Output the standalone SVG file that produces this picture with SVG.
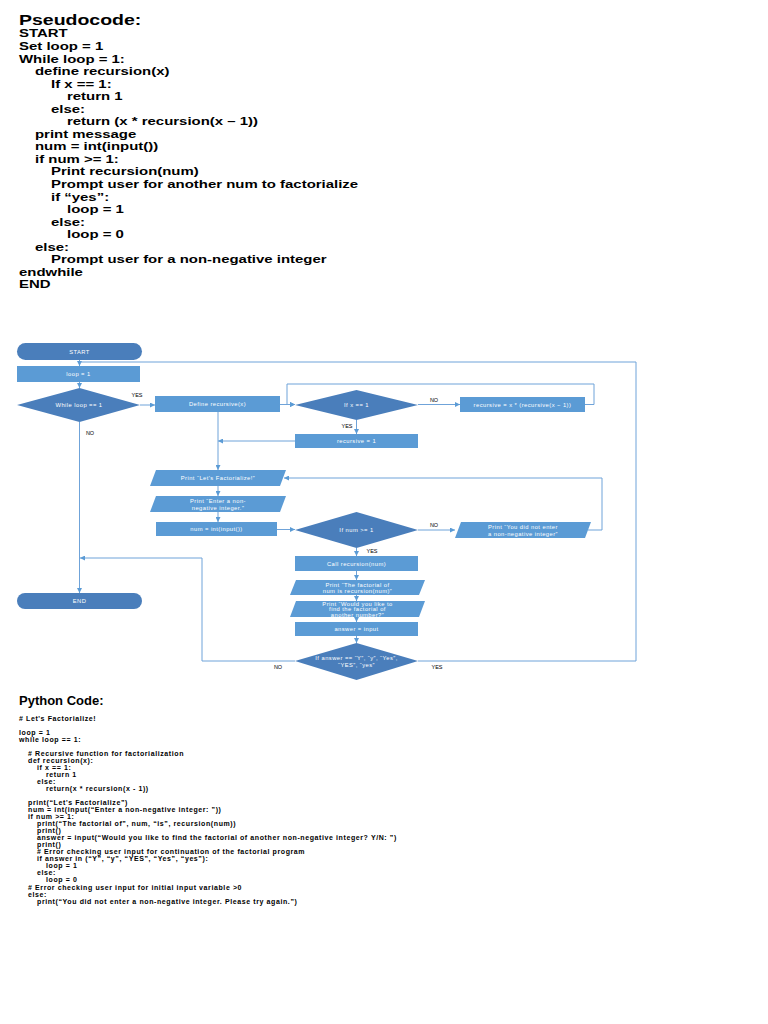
<svg xmlns="http://www.w3.org/2000/svg" width="768" height="1024" viewBox="0 0 768 1024">
<style>
.h{font-family:"Liberation Sans",Arial,sans-serif;font-weight:bold;fill:#000}
.pc{font-family:"Liberation Sans",Arial,sans-serif;font-weight:bold;font-size:11.5px;fill:#000}
.py{font-family:"Liberation Sans",Arial,sans-serif;font-weight:bold;font-size:7px;letter-spacing:0.6px;fill:#000}
.dk{fill:#4a7ebb}
.lt{fill:#5b9bd5}
.t{font-family:"Liberation Sans",Arial,sans-serif;font-size:5.8px;fill:#fff;text-anchor:middle;letter-spacing:0.45px}
.lb{font-family:"Liberation Sans",Arial,sans-serif;font-size:5.5px;fill:#000;text-anchor:middle}
.c{fill:none;stroke:#6fa3d9;stroke-width:1}
</style>
<defs>
<marker id="a" viewBox="0 0 10 10" refX="10" refY="5" markerWidth="5" markerHeight="5" orient="auto" markerUnits="userSpaceOnUse">
<path d="M0,0 L10,5 L0,10 z" fill="#5b9bd5"/>
</marker>
</defs>
<rect width="768" height="1024" fill="#fff"/>

<!-- Pseudocode -->
<g id="pseudocode" transform="translate(19 0) scale(1.3 1)">
<text class="h" x="0" y="25" font-size="15">Pseudocode:</text>
<text class="pc" x="0" y="37.5">START</text>
<text class="pc" x="0" y="50">Set loop = 1</text>
<text class="pc" x="0" y="62.6">While loop = 1:</text>
<text class="pc" x="12.31" y="75.1">define recursion(x)</text>
<text class="pc" x="24.62" y="87.7">If x == 1:</text>
<text class="pc" x="36.92" y="100.2">return 1</text>
<text class="pc" x="24.62" y="112.8">else:</text>
<text class="pc" x="36.92" y="125.3">return (x * recursion(x – 1))</text>
<text class="pc" x="12.31" y="137.9">print message</text>
<text class="pc" x="12.31" y="150.4">num = int(input())</text>
<text class="pc" x="12.31" y="163">if num &gt;= 1:</text>
<text class="pc" x="24.62" y="175.5">Print recursion(num)</text>
<text class="pc" x="24.62" y="188.1">Prompt user for another num to factorialize</text>
<text class="pc" x="24.62" y="200.6">if “yes”:</text>
<text class="pc" x="36.92" y="213.2">loop = 1</text>
<text class="pc" x="24.62" y="225.7">else:</text>
<text class="pc" x="36.92" y="238.3">loop = 0</text>
<text class="pc" x="12.31" y="250.8">else:</text>
<text class="pc" x="24.62" y="263.4">Prompt user for a non-negative integer</text>
<text class="pc" x="0" y="275.9">endwhile</text>
<text class="pc" x="0" y="288.5">END</text>
</g>

<!-- Connectors -->
<g id="connectors">
<path class="c" d="M79.5,360 V366" marker-end="url(#a)"/>
<path class="c" d="M79.5,382 V388" marker-end="url(#a)"/>
<path class="c" d="M140,405 H155" marker-end="url(#a)"/>
<path class="c" d="M79.5,422 V593" marker-end="url(#a)"/>
<path class="c" d="M280,404.5 H295" marker-end="url(#a)"/>
<path class="c" d="M418,404.5 H460" marker-end="url(#a)"/>
<path class="c" d="M585,404.5 H594 V384 H287 V404.5 H295" marker-end="url(#a)"/>
<path class="c" d="M356.5,420 V434" marker-end="url(#a)"/>
<path class="c" d="M295,441 H218" marker-end="url(#a)"/>
<path class="c" d="M218,412 V470" marker-end="url(#a)"/>
<path class="c" d="M218,486 V496" marker-end="url(#a)"/>
<path class="c" d="M218,512 V522" marker-end="url(#a)"/>
<path class="c" d="M277,529.5 H295" marker-end="url(#a)"/>
<path class="c" d="M418,530 H455" marker-end="url(#a)"/>
<path class="c" d="M588,530 H602 V478 H284" marker-end="url(#a)"/>
<path class="c" d="M356.5,548 V556" marker-end="url(#a)"/>
<path class="c" d="M356.5,571 V580" marker-end="url(#a)"/>
<path class="c" d="M356.5,595 V601" marker-end="url(#a)"/>
<path class="c" d="M356.5,617 V622" marker-end="url(#a)"/>
<path class="c" d="M356.5,636 V643" marker-end="url(#a)"/>
<path class="c" d="M295,661 H202 V558 H80" marker-end="url(#a)"/>
<path class="c" d="M418,661 H636 V362 H79.5"/>
<text class="lb" x="137" y="397">YES</text>
<text class="lb" x="90" y="435">NO</text>
<text class="lb" x="434" y="402">NO</text>
<text class="lb" x="347" y="428">YES</text>
<text class="lb" x="434" y="527">NO</text>
<text class="lb" x="372" y="553">YES</text>
<text class="lb" x="278" y="669">NO</text>
<text class="lb" x="437" y="669">YES</text>
</g>

<!-- Flowchart nodes -->
<g id="start"><rect class="dk" x="17" y="343" width="125" height="17" rx="8.5"/><text class="t" x="79.5" y="353.5">START</text></g>
<g id="loop1"><rect class="lt" x="17" y="366" width="123" height="16"/><text class="t" x="78.5" y="376">loop = 1</text></g>
<g id="while"><polygon class="dk" points="17,405 79.5,388 140,405 79.5,422"/><text class="t" x="79" y="407">While loop == 1</text></g>
<g id="end"><rect class="dk" x="17" y="593" width="125" height="16" rx="8"/><text class="t" x="79.5" y="603">END</text></g>
<g id="define"><rect class="lt" x="155" y="396" width="125" height="16"/><text class="t" x="217.5" y="406">Define recursive(x)</text></g>
<g id="ifx"><polygon class="dk" points="295,405 356.5,390 418,405 356.5,420"/><text class="t" x="356.5" y="407">If x == 1</text></g>
<g id="recx"><rect class="lt" x="460" y="397" width="125" height="15"/><text class="t" x="522.5" y="406.5">recursive = x * (recursive(x − 1))</text></g>
<g id="rec1"><rect class="lt" x="295" y="434" width="123" height="14"/><text class="t" x="356.5" y="443">recursive = 1</text></g>
<g id="printlets"><polygon class="lt" points="156,470 286,470 280,486 150,486"/><text class="t" x="218" y="480">Print “Let's Factorialize!”</text></g>
<g id="printenter"><polygon class="lt" points="156,496 286,496 280,512 150,512"/><text class="t" x="218" y="503">Print “Enter a non-</text><text class="t" x="218" y="509.5">negative integer.”</text></g>
<g id="num"><rect class="lt" x="156" y="522" width="121" height="14"/><text class="t" x="216.5" y="531">num = int(input())</text></g>
<g id="ifnum"><polygon class="dk" points="295,530 356.5,512 418,530 356.5,548"/><text class="t" x="356.5" y="532">If num &gt;= 1</text></g>
<g id="printnot"><polygon class="lt" points="461,522 591,522 585,538 455,538"/><text class="t" x="523" y="529">Print “You did not enter</text><text class="t" x="523" y="535.5">a non-negative integer”</text></g>
<g id="call"><rect class="lt" x="295" y="556" width="123" height="15"/><text class="t" x="356.5" y="565.5">Call recursion(num)</text></g>
<g id="printfact"><polygon class="lt" points="296,580 425,580 419,595 290,595"/><text class="t" x="357.5" y="586.5">Print “The factorial of</text><text class="t" x="357.5" y="593">num is recursion(num)”</text></g>
<g id="printwould"><polygon class="lt" points="296,601 425,601 419,617 290,617"/><text class="t" x="357.5" y="605.5">Print “Would you like to</text><text class="t" x="357.5" y="611">find the factorial of</text><text class="t" x="357.5" y="616.5">another number?”</text></g>
<g id="answer"><rect class="lt" x="295" y="622" width="123" height="14"/><text class="t" x="356.5" y="631">answer = input</text></g>
<g id="ifanswer"><polygon class="dk" points="295,661 356.5,643 418,661 356.5,680"/><text class="t" x="356.5" y="660">If answer == “Y”, “y”, “Yes”,</text><text class="t" x="356.5" y="666.5">“YES”, “yes”</text></g>

<!-- Python code -->
<g id="python">
<text class="h" x="19" y="705" font-size="13">Python Code:</text>
<text class="py" x="19" y="720.5"># Let's Factorialize!</text>
<text class="py" x="19" y="734.6">loop = 1</text>
<text class="py" x="19" y="741.6">while loop == 1:</text>
<text class="py" x="28" y="755.7"># Recursive function for factorialization</text>
<text class="py" x="28" y="762.7">def recursion(x):</text>
<text class="py" x="37" y="769.8">if x == 1:</text>
<text class="py" x="46" y="776.8">return 1</text>
<text class="py" x="37" y="783.9">else:</text>
<text class="py" x="46" y="790.9">return(x * recursion(x - 1))</text>
<text class="py" x="28" y="805">print(“Let's Factorialize”)</text>
<text class="py" x="28" y="812">num = int(input(“Enter a non-negative integer: ”))</text>
<text class="py" x="28" y="819.1">if num &gt;= 1:</text>
<text class="py" x="37" y="826.1">print(“The factorial of”, num, “is”, recursion(num))</text>
<text class="py" x="37" y="833.1">print()</text>
<text class="py" x="37" y="840.2">answer = input(“Would you like to find the factorial of another non-negative integer? Y/N: ”)</text>
<text class="py" x="37" y="847.2">print()</text>
<text class="py" x="37" y="854.3"># Error checking user input for continuation of the factorial program</text>
<text class="py" x="37" y="861.3">if answer in (“Y”, “y”, “YES”, “Yes”, “yes”):</text>
<text class="py" x="46" y="868.3">loop = 1</text>
<text class="py" x="37" y="875.4">else:</text>
<text class="py" x="46" y="882.4">loop = 0</text>
<text class="py" x="28" y="889.5"># Error checking user input for initial input variable &gt;0</text>
<text class="py" x="28" y="896.5">else:</text>
<text class="py" x="37" y="903.5">print(“You did not enter a non-negative integer. Please try again.”)</text>
</g>
</svg>
